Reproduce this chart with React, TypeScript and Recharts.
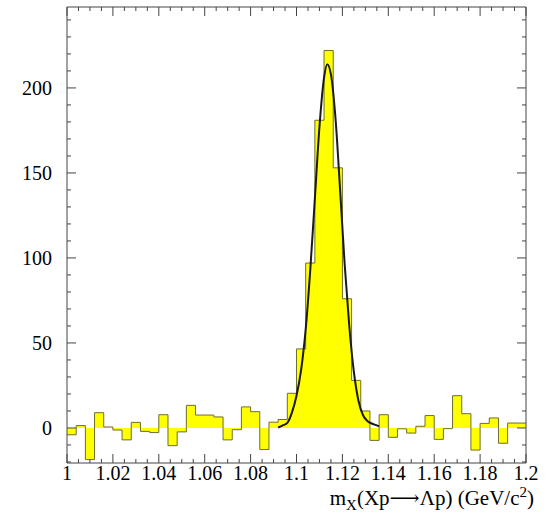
import { ComposedChart, Area, Line, XAxis, YAxis } from "recharts";

// histogram: lower bin edges (width 0.004) and entries
const BIN_LOW = [
  1.0, 1.004, 1.008, 1.012, 1.016, 1.02, 1.024, 1.028, 1.032, 1.036,
  1.04, 1.044, 1.048, 1.052, 1.056, 1.06, 1.064, 1.068, 1.072, 1.076,
  1.08, 1.084, 1.088, 1.092, 1.096, 1.1, 1.104, 1.108, 1.112, 1.116,
  1.12, 1.124, 1.128, 1.132, 1.136, 1.14, 1.144, 1.148, 1.152, 1.156,
  1.16, 1.164, 1.168, 1.172, 1.176, 1.18, 1.184, 1.188, 1.192, 1.196,
];
const COUNTS = [
  -4, 1.4, -18.6, 9, 0.6, -1.2, -7, 3.3, -2, -2.7,
  7.8, -10.4, -2.3, 13.3, 7.6, 7.6, 6.5, -7, -1, 12.4,
  9.6, -12.7, 3.4, 5, 20.4, 46.5, 97, 181, 222, 153,
  76, 28, 10, -7.3, 7.8, -5.5, -0.5, -3, 1, 7.3,
  -6.7, -0.4, 19, 8.4, -13, 2.7, 5.9, -9, 2.9, 2.9,
];
const X_END = 1.2;

// fitted peak
const FIT_X = [
  1.092, 1.094, 1.096, 1.098, 1.1, 1.102, 1.104, 1.106, 1.108, 1.11, 1.112,
  1.1134, 1.115, 1.117, 1.119, 1.121, 1.123, 1.125, 1.127, 1.129, 1.131,
  1.133, 1.135, 1.136,
];
const FIT_Y = [
  0.3, 1.5, 3, 9, 19, 34, 58, 93, 135, 177, 206,
  214, 208, 182, 140, 96, 60, 33, 16, 7.5, 4,
  2.5, 1.5, 1,
];

const X_TICKS = [
  1.0, 1.005, 1.01, 1.015, 1.02, 1.025, 1.03, 1.035, 1.04, 1.045,
  1.05, 1.055, 1.06, 1.065, 1.07, 1.075, 1.08, 1.085, 1.09, 1.095,
  1.1, 1.105, 1.11, 1.115, 1.12, 1.125, 1.13, 1.135, 1.14, 1.145,
  1.15, 1.155, 1.16, 1.165, 1.17, 1.175, 1.18, 1.185, 1.19, 1.195, 1.2,
];
const X_LABELS = [1, 1.02, 1.04, 1.06, 1.08, 1.1, 1.12, 1.14, 1.16, 1.18, 1.2];
const Y_TICKS = [
  -20, -10, 0, 10, 20, 30, 40, 50, 60, 70, 80, 90, 100, 110, 120, 130,
  140, 150, 160, 170, 180, 190, 200, 210, 220, 230, 240,
];
const Y_LABELS = [0, 50, 100, 150, 200];

const hist = [
  ...BIN_LOW.map((x, i) => ({ x, v: COUNTS[i] })),
  { x: X_END, v: COUNTS[COUNTS.length - 1] },
];
const fit = FIT_X.map((x, i) => ({ x, y: FIT_Y[i] }));

const FONT = "'Liberation Serif', 'Times New Roman', serif";
const AXIS = "#444";
const isMajor = (list: number[], v: number) => list.some((l) => Math.abs(l - v) < 1e-9);

function BottomTick({ x, y, payload }: any) {
  const major = isMajor(X_LABELS, payload.value);
  return (
    <g>
      <line x1={x} x2={x} y1={y} y2={y - (major ? 9 : 4)} stroke={AXIS} />
      {major && (
        <text x={x} y={y + 17} textAnchor="middle" fontSize={20} fontFamily={FONT} fill="#000">
          {String(payload.value)}
        </text>
      )}
    </g>
  );
}

function TopTick({ x, y, payload }: any) {
  const major = isMajor(X_LABELS, payload.value);
  return <line x1={x} x2={x} y1={y} y2={y + (major ? 9 : 4)} stroke={AXIS} />;
}

function LeftTick({ x, y, payload }: any) {
  const major = isMajor(Y_LABELS, payload.value);
  return (
    <g>
      <line x1={x} x2={x + (major ? 9 : 4)} y1={y} y2={y} stroke={AXIS} />
      {major && (
        <text x={x - 15} y={y} dy="0.36em" textAnchor="end" fontSize={20} fontFamily={FONT} fill="#000">
          {String(payload.value)}
        </text>
      )}
    </g>
  );
}

function RightTick({ x, y, payload }: any) {
  const major = isMajor(Y_LABELS, payload.value);
  return <line x1={x} x2={x - (major ? 9 : 4)} y1={y} y2={y} stroke={AXIS} />;
}

function AxisTitle({ viewBox }: any) {
  const { x, y, width } = viewBox;
  return (
    <text x={x + width + 8} y={y + 42} textAnchor="end" fontSize={21} fontFamily={FONT} fill="#000">
      <tspan>m</tspan>
      <tspan dy={5} fontSize={15}>X</tspan>
      <tspan dy={-5}>(Xp</tspan>
      <tspan fontFamily="'DejaVu Serif', serif" fontSize={21}>⟶</tspan>
      <tspan>Λp) (GeV/c</tspan>
      <tspan dy={-8} fontSize={15}>2</tspan>
      <tspan dy={8}>)</tspan>
    </text>
  );
}

export default function App() {
  return (
    <div style={{ position: "absolute", left: 0, top: 0, background: "#fff" }}>
      <ComposedChart width={547} height={516} data={hist} margin={{ top: 0, right: 0, bottom: 0, left: 0 }}>
        <Area
          type="stepAfter"
          dataKey="v"
          baseValue={0}
          fill="#ffff00"
          fillOpacity={1}
          stroke="#6e6e2e"
          strokeWidth={1}
          isAnimationActive={false}
        />
        <Line
          data={fit}
          type="monotone"
          dataKey="y"
          stroke="#1a1a1a"
          strokeWidth={2}
          dot={false}
          isAnimationActive={false}
        />
        <XAxis
          dataKey="x"
          type="number"
          domain={[1, 1.2]}
          allowDataOverflow
          ticks={X_TICKS}
          interval={0}
          height={53}
          tickSize={0}
          tickMargin={0}
          tickLine={false}
          axisLine={{ stroke: AXIS }}
          tick={<BottomTick />}
          label={{ content: (p: any) => <AxisTitle viewBox={p.viewBox} /> }}
        />
        <XAxis
          xAxisId="top"
          orientation="top"
          dataKey="x"
          type="number"
          domain={[1, 1.2]}
          allowDataOverflow
          ticks={X_TICKS}
          interval={0}
          height={7}
          tickSize={0}
          tickMargin={0}
          tickLine={false}
          axisLine={{ stroke: AXIS }}
          tick={<TopTick />}
        />
        <YAxis
          type="number"
          domain={[-20.6, 247.6]}
          allowDataOverflow
          ticks={Y_TICKS}
          interval={0}
          width={67}
          tickSize={0}
          tickMargin={0}
          tickLine={false}
          axisLine={{ stroke: AXIS }}
          tick={<LeftTick />}
        />
        <YAxis
          yAxisId="right"
          orientation="right"
          type="number"
          domain={[-20.6, 247.6]}
          allowDataOverflow
          ticks={Y_TICKS}
          interval={0}
          width={21}
          tickSize={0}
          tickMargin={0}
          tickLine={false}
          axisLine={{ stroke: AXIS }}
          tick={<RightTick />}
        />
      </ComposedChart>
    </div>
  );
}
